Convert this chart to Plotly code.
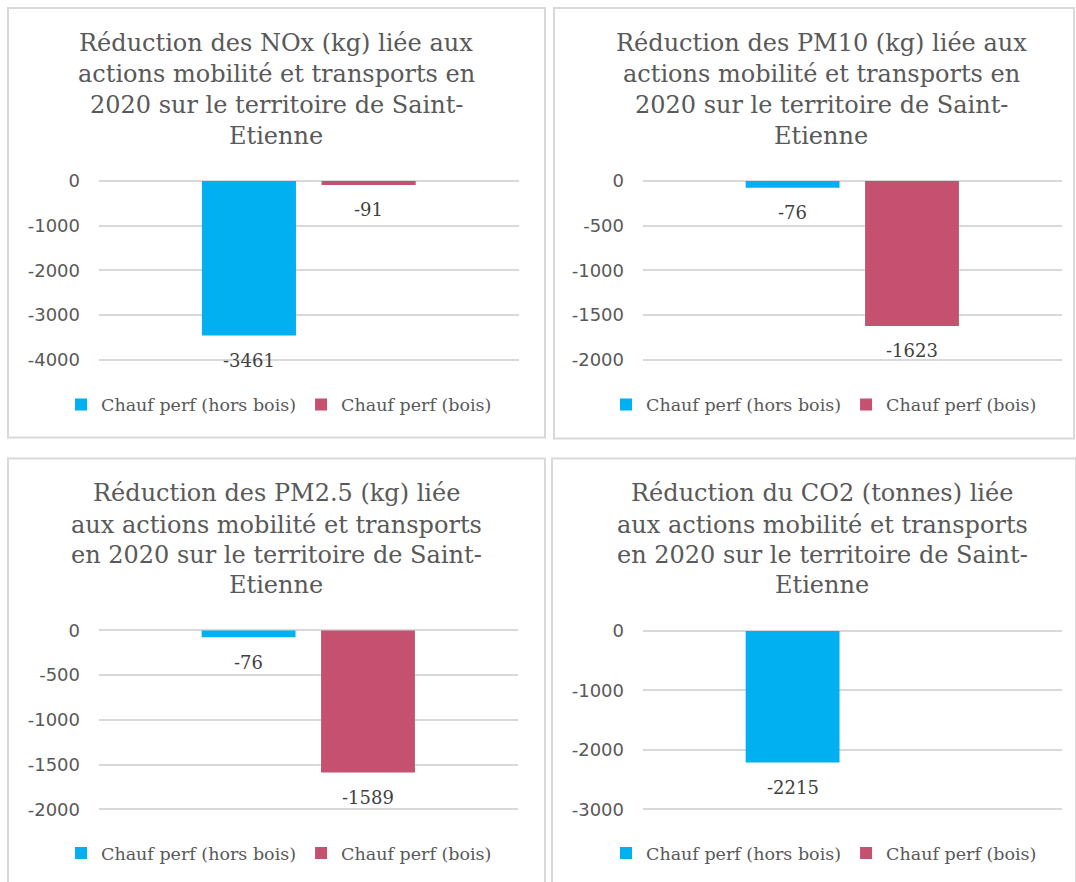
import plotly.graph_objects as go

W, H = 1076, 882

# ---------------- data ----------------
series_names = ["Chauf perf (hors bois)", "Chauf perf (bois)"]
series_colors = ["#00B0F0", "#C5506F"]

titles = [
    ["Réduction des NOx (kg) liée aux", "actions mobilité et transports en",
     "2020 sur le territoire de Saint-", "Etienne"],
    ["Réduction des PM10 (kg) liée aux", "actions mobilité et transports en",
     "2020 sur le territoire de Saint-", "Etienne"],
    ["Réduction des PM2.5 (kg) liée", "aux actions mobilité et transports",
     "en 2020 sur le territoire de Saint-", "Etienne"],
    ["Réduction du CO2 (tonnes) liée", "aux actions mobilité et transports",
     "en 2020 sur le territoire de Saint-", "Etienne"],
]
hors_bois = [-3461, -76, -76, -2215]
bois = [-91, -1623, -1589, None]

tick_vals = [
    [0, -1000, -2000, -3000, -4000],
    [0, -500, -1000, -1500, -2000],
    [0, -500, -1000, -1500, -2000],
    [0, -1000, -2000, -3000],
]
tick_text = [
    ["0", "-1000", "-2000", "-3000", "-4000"],
    ["0", "-500", "-1000", "-1500", "-2000"],
    ["0", "-500", "-1000", "-1500", "-2000"],
    ["0", "-1000", "-2000", "-3000"],
]

# ---------------- layout geometry (target pixels) ----------------
panels = [
    dict(box=(8, 7, 545, 437), px=(99, 519), y0=180, ymin=359,
         tx=276, ty=[42, 73, 104, 135], lx=279, ly=404),
    dict(box=(554, 7, 1074, 438), px=(643, 1062), y0=180, ymin=359,
         tx=821, ty=[42, 73, 104, 135], lx=824, ly=404),
    dict(box=(8, 458, 545, 900), px=(99, 518), y0=630, ymin=809,
         tx=276, ty=[492, 524, 555, 585], lx=279, ly=853),
    dict(box=(552, 458, 1076, 900), px=(643, 1062), y0=630.5, ymin=809,
         tx=822, ty=[492, 524, 555, 585], lx=824, ly=853),
]

bar_width = 0.224
bar_offsets = [-0.255, 0.030]

TITLE_FONT = "DejaVu Serif"
GREY = "#595959"

# vertical correction for the capture (measured)
VS, VO = 0.9841, 6.9

fig = go.Figure()
annotations = []
shapes = []
layout_extra = {}

def px_x(v):
    return v / W

def px_y(v):
    return 1 - ((v - VO) / VS) / H

for i, p in enumerate(panels):
    n = i + 1
    xa = "x" if n == 1 else f"x{n}"
    ya = "y" if n == 1 else f"y{n}"
    leg = "legend" if n == 1 else f"legend{n}"
    vals = [hors_bois[i], bois[i]]
    for s in range(2):
        fig.add_trace(go.Bar(
            x=[0], y=[vals[s]], name=series_names[s],
            marker=dict(color=series_colors[s], line=dict(width=0)),
            width=bar_width, offset=bar_offsets[s],
            xaxis=xa, yaxis=ya, legend=leg, showlegend=True,
            hoverinfo="skip",
        ))
        if vals[s] is not None:
            annotations.append(dict(
                x=bar_offsets[s] + bar_width / 2, y=vals[s],
                xref=xa, yref=ya, text=str(vals[s]), showarrow=False,
                yanchor="middle", yshift=-25,
                font=dict(family=TITLE_FONT, size=18, color="#404040"),
            ))
    vmin = tick_vals[i][-1]
    ppu = (p["ymin"] - p["y0"]) / (-vmin)
    pad_units = 3 / ppu
    top_px = p["y0"] - 3
    bot_px = p["ymin"] + 3
    xkey = "xaxis" if n == 1 else f"xaxis{n}"
    ykey = "yaxis" if n == 1 else f"yaxis{n}"
    layout_extra[xkey] = dict(
        domain=[px_x(p["px"][0]), px_x(p["px"][1])], range=[-0.5, 0.5],
        showticklabels=False, showgrid=False, zeroline=False,
        showline=False, anchor=ya, fixedrange=True,
    )
    layout_extra[ykey] = dict(
        domain=[px_y(bot_px), px_y(top_px)],
        range=[vmin - pad_units, pad_units],
        tickvals=tick_vals[i], ticktext=tick_text[i],
        showgrid=True, gridcolor="#D9D9D9", gridwidth=1.5,
        zeroline=False, showline=False, ticks="",
        ticklabelstandoff=18, anchor=xa, fixedrange=True,
        tickfont=dict(family="DejaVu Sans", size=18, color=GREY),
    )
    layout_extra[leg] = dict(
        orientation="h", x=px_x(p["lx"]), y=px_y(p["ly"]),
        xanchor="center", yanchor="middle", xref="paper", yref="paper",
        font=dict(family=TITLE_FONT, size=17.5, color=GREY),
        bgcolor="rgba(0,0,0,0)", itemclick=False, itemdoubleclick=False,
        traceorder="normal",
    )
    for k, line in enumerate(titles[i]):
        annotations.append(dict(
            x=px_x(p["tx"]), y=px_y(p["ty"][k]), xref="paper", yref="paper",
            text=line, showarrow=False, xanchor="center", yanchor="middle",
            font=dict(family=TITLE_FONT, size=24, color=GREY),
        ))
    x0, y0, x1, y1 = p["box"]
    shapes.append(dict(
        type="rect", xref="paper", yref="paper",
        x0=px_x(x0), x1=px_x(x1), y0=px_y(y1), y1=px_y(y0),
        line=dict(color="#D9D9D9", width=2), fillcolor="rgba(0,0,0,0)",
        layer="below",
    ))

fig.update_layout(
    width=W, height=H, margin=dict(l=0, r=0, t=0, b=0),
    paper_bgcolor="white", plot_bgcolor="white",
    barmode="overlay", annotations=annotations, shapes=shapes,
    **layout_extra,
)

fig.write_html(
    "out.html",
    config={"displayModeBar": False},
    post_script="document.body.style.margin='0';document.body.style.overflow='hidden';",
)
